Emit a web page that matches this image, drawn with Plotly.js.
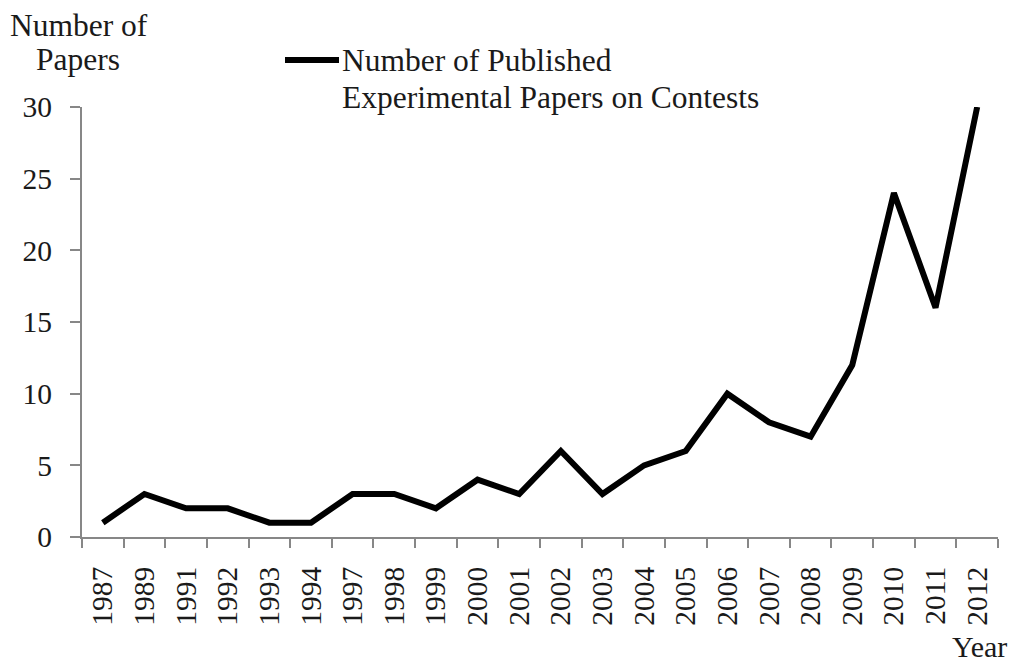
<!DOCTYPE html>
<html>
<head>
<meta charset="utf-8">
<script src="https://cdn.plot.ly/plotly-3.0.1.min.js"></script>
<style>html,body{margin:0;padding:0;background:#fff;}#chart{width:1013px;height:662px;}</style>
</head>
<body>
<div id="chart"></div>
<script>
const years = ["1987","1989","1991","1992","1993","1994","1997","1998","1999","2000","2001","2002","2003","2004","2005","2006","2007","2008","2009","2010","2011","2012"];
const papers = [1,3,2,2,1,1,3,3,2,4,3,6,3,5,6,10,8,7,12,24,16,30];
const yTicks = [0,5,10,15,20,25,30];
const yTitleLines = ["Number of", "Papers"];
const seriesLines = ["Number of Published", "Experimental Papers on Contests"];
const xTitle = "Year";

const F = "'Liberation Serif', 'Times New Roman', serif";
const axisColor = "#878787";
const textColor = "#1a1a1a";
const TS = 31.5;   // title / legend font size
const KS = 29.5;   // tick font size

const trace = {
  type: "scatter", mode: "lines", x: years, y: papers,
  line: {color: "#000", width: 6},
  showlegend: false, cliponaxis: false, hoverinfo: "none"
};

const plotW = 1013 - 82 - 15, plotH = 662 - 107 - 125;
function px(x){ return (x - 82) / plotW; }
function py(y){ return (662 - 125 - y) / plotH; }
// centre of a single text line whose baseline is at pixel y
function cy(base, size){ return py(base - 0.34 * size); }

function label(text, x, base, anchor, size){
  return {xref: "paper", yref: "paper", x: px(x), y: cy(base, size),
    xanchor: anchor, yanchor: "middle", text: text, showarrow: false,
    font: {family: F, size: size, color: textColor}};
}

const layout = {
  width: 1013, height: 662,
  margin: {l: 82, r: 15, t: 107, b: 125},
  paper_bgcolor: "#fff", plot_bgcolor: "#fff",
  font: {family: F, color: textColor, size: TS},
  xaxis: {
    type: "category", range: [-0.5, years.length - 0.5],
    showgrid: false, zeroline: false,
    showline: true, linecolor: axisColor, linewidth: 2,
    ticks: "outside", ticklen: 9, tickcolor: axisColor, tickwidth: 2,
    tickson: "boundaries", tickangle: -90, ticklabelstandoff: 16,
    tickfont: {family: F, size: KS, color: textColor},
    fixedrange: true
  },
  yaxis: {
    range: [0, 30], tickvals: yTicks, showgrid: false, zeroline: false,
    showline: true, linecolor: axisColor, linewidth: 2,
    ticks: "outside", ticklen: 10, tickcolor: axisColor, tickwidth: 2,
    ticklabelstandoff: 12,
    tickfont: {family: F, size: KS, color: textColor},
    fixedrange: true
  },
  shapes: [
    {type: "line", xref: "paper", yref: "paper", x0: px(285), x1: px(339), y0: py(60), y1: py(60),
     line: {color: "#000", width: 6}}
  ],
  annotations: [
    label(yTitleLines[0], 78.5, 36, "center", TS),
    label(yTitleLines[1], 78, 70, "center", TS),
    label(seriesLines[0], 340, 71, "left", TS),
    label(seriesLines[1], 340, 108, "left", TS),
    label(xTitle, 1009, 657, "right", 30)
  ]
};

Plotly.newPlot("chart", [trace], layout, {staticPlot: true, displayModeBar: false});
</script>
</body>
</html>
